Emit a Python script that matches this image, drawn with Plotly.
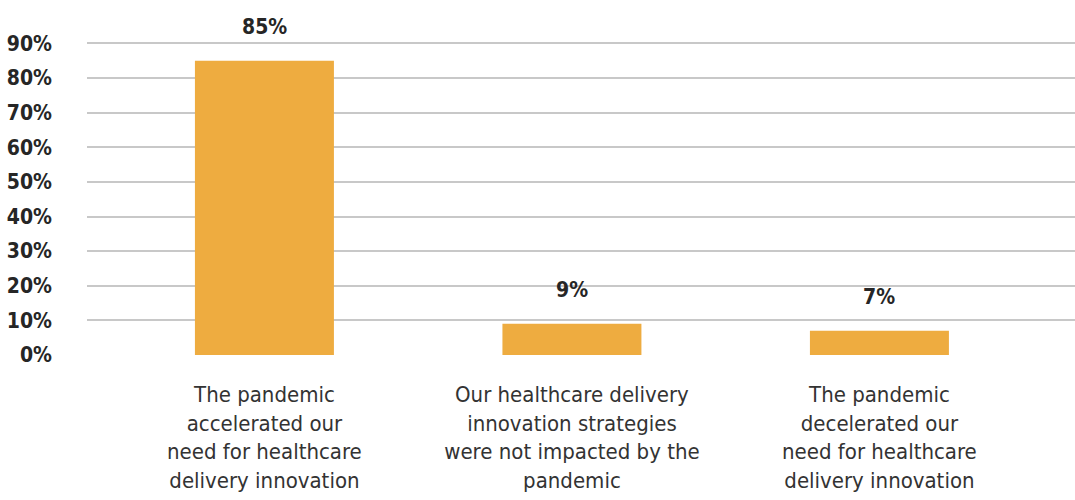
import plotly.graph_objects as go

# Survey responses on the pandemic's effect on healthcare delivery innovation
categories = [
    "The pandemic<br>accelerated our<br>need for healthcare<br>delivery innovation",
    "Our healthcare delivery<br>innovation strategies<br>were not impacted by the<br>pandemic",
    "The pandemic<br>decelerated our<br>need for healthcare<br>delivery innovation",
]
values = [85, 9, 7]
value_labels = ["85%", "9%", "7%"]
y_ticks = [0, 10, 20, 30, 40, 50, 60, 70, 80, 90]
y_tick_labels = ["0%", "10%", "20%", "30%", "40%", "50%", "60%", "70%", "80%", "90%"]

FONT = "DejaVu Sans Condensed, Liberation Sans Narrow, sans-serif"
BAR_COLOR = "#EEAC40"
TEXT_COLOR = "#262626"

x_pos = list(range(len(categories)))

fig = go.Figure(
    go.Bar(
        x=x_pos,
        y=values,
        width=0.452,
        marker=dict(color=BAR_COLOR, line=dict(width=0)),
        hoverinfo="skip",
    )
)

for xi, v, lab in zip(x_pos, values, value_labels):
    fig.add_annotation(
        x=xi, y=v, text=f"<b>{lab}</b>", showarrow=False,
        yanchor="bottom", yshift=20,
        font=dict(family=FONT, size=21, color=TEXT_COLOR),
    )

fig.update_layout(
    width=1075, height=500,
    margin=dict(l=87, r=0, t=42, b=145),
    paper_bgcolor="white", plot_bgcolor="white",
    showlegend=False,
    font=dict(family=FONT, color=TEXT_COLOR),
    xaxis=dict(
        range=[-0.577, 2.636],
        tickmode="array", tickvals=x_pos, ticktext=categories,
        tickfont=dict(family=FONT, size=22, color="#333333"),
        showgrid=False, zeroline=False, showline=False,
        ticks="", ticklabelstandoff=24,
    ),
    yaxis=dict(
        range=[0, 90.4],
        tickmode="array", tickvals=y_ticks,
        ticktext=[f"<b>{t}</b>" for t in y_tick_labels],
        tickfont=dict(family=FONT, size=21, color=TEXT_COLOR),
        showgrid=True, gridcolor="#C8C8C8", gridwidth=1.5,
        zeroline=False, showline=False, ticks="",
        ticklabelstandoff=34,
    ),
)

fig.write_html("out.html")
